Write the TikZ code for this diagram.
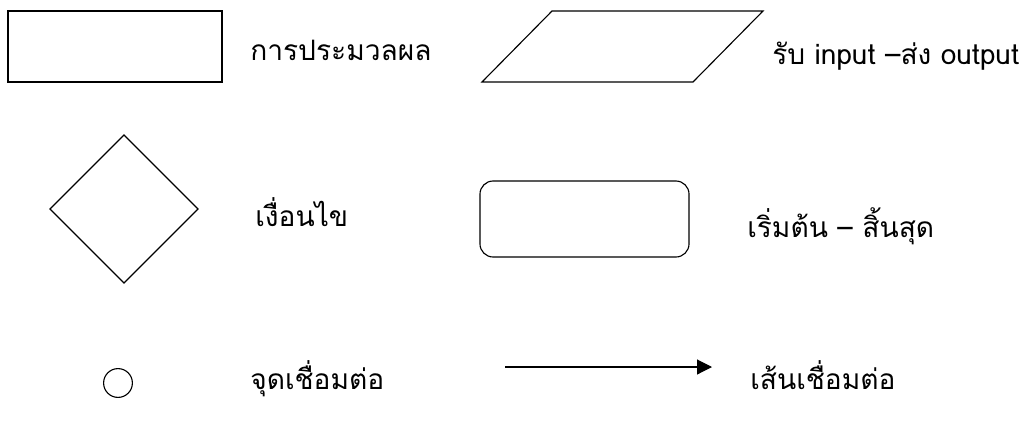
\documentclass[tikz,border=0pt]{standalone}
\usepackage{fontspec}
\newfontfamily\thaifont[Script=Thai]{Loma}
\usepackage{tikz}
\usetikzlibrary{shapes.geometric}
\usetikzlibrary{arrows.meta}

\begin{document}
\begin{tikzpicture}[x=0.025cm,y=-0.025cm]
\tikzstyle{shp}=[draw, line width=0.8pt, inner sep=0pt, outer sep=0pt]
\tikzstyle{lbl}=[draw=none, anchor=base west, inner sep=0pt, font=\thaifont\fontsize{20}{24}\selectfont]
\useasboundingbox (0,0) rectangle (1027,423);
%
\node[shp, shape=rectangle, minimum width=5.35cm, minimum height=1.775cm](proc) at (115,46.5){};
\coordinate (iobl) at (482,82);
\coordinate (iotl) at (552,11);
\coordinate (iotr) at (763,11);
\coordinate (iobr) at (693,82);
\draw[line width=0.8pt] (iobl) -- (iotl) -- (iotr) -- (iobr) -- cycle;
%
\node[shp, shape=diamond, minimum width=3.7cm, minimum height=3.7cm](cond) at (124,209){};
\node[shp, shape=rectangle, rounded corners=0.33cm, minimum width=5.225cm, minimum height=1.9cm](term) at (584.5,219){};
%
\node[shp, shape=circle, minimum size=0.72cm](conn) at (118,383){};
\coordinate (arrs) at (505,367);
\coordinate (arre) at (712,367);
\draw[line width=0.8pt, -{Triangle[length=10.5pt, width=10.5pt]}] (arrs) -- (arre);
%
\node[lbl](proclbl) at (250,60){การประมวลผล};
\node[lbl](iolbl) at (772,64){รับ input –ส่ง output};
\node[lbl](condlbl) at (255,226){เงื่อนไข};
\node[lbl](termlbl) at (747,237){เริ่มต้น – สิ้นสุด};
\node[lbl](connlbl) at (250,389){จุดเชื่อมต่อ};
\node[lbl](arrlbl) at (750,389){เส้นเชื่อมต่อ};
%
\end{tikzpicture}
\end{document}
